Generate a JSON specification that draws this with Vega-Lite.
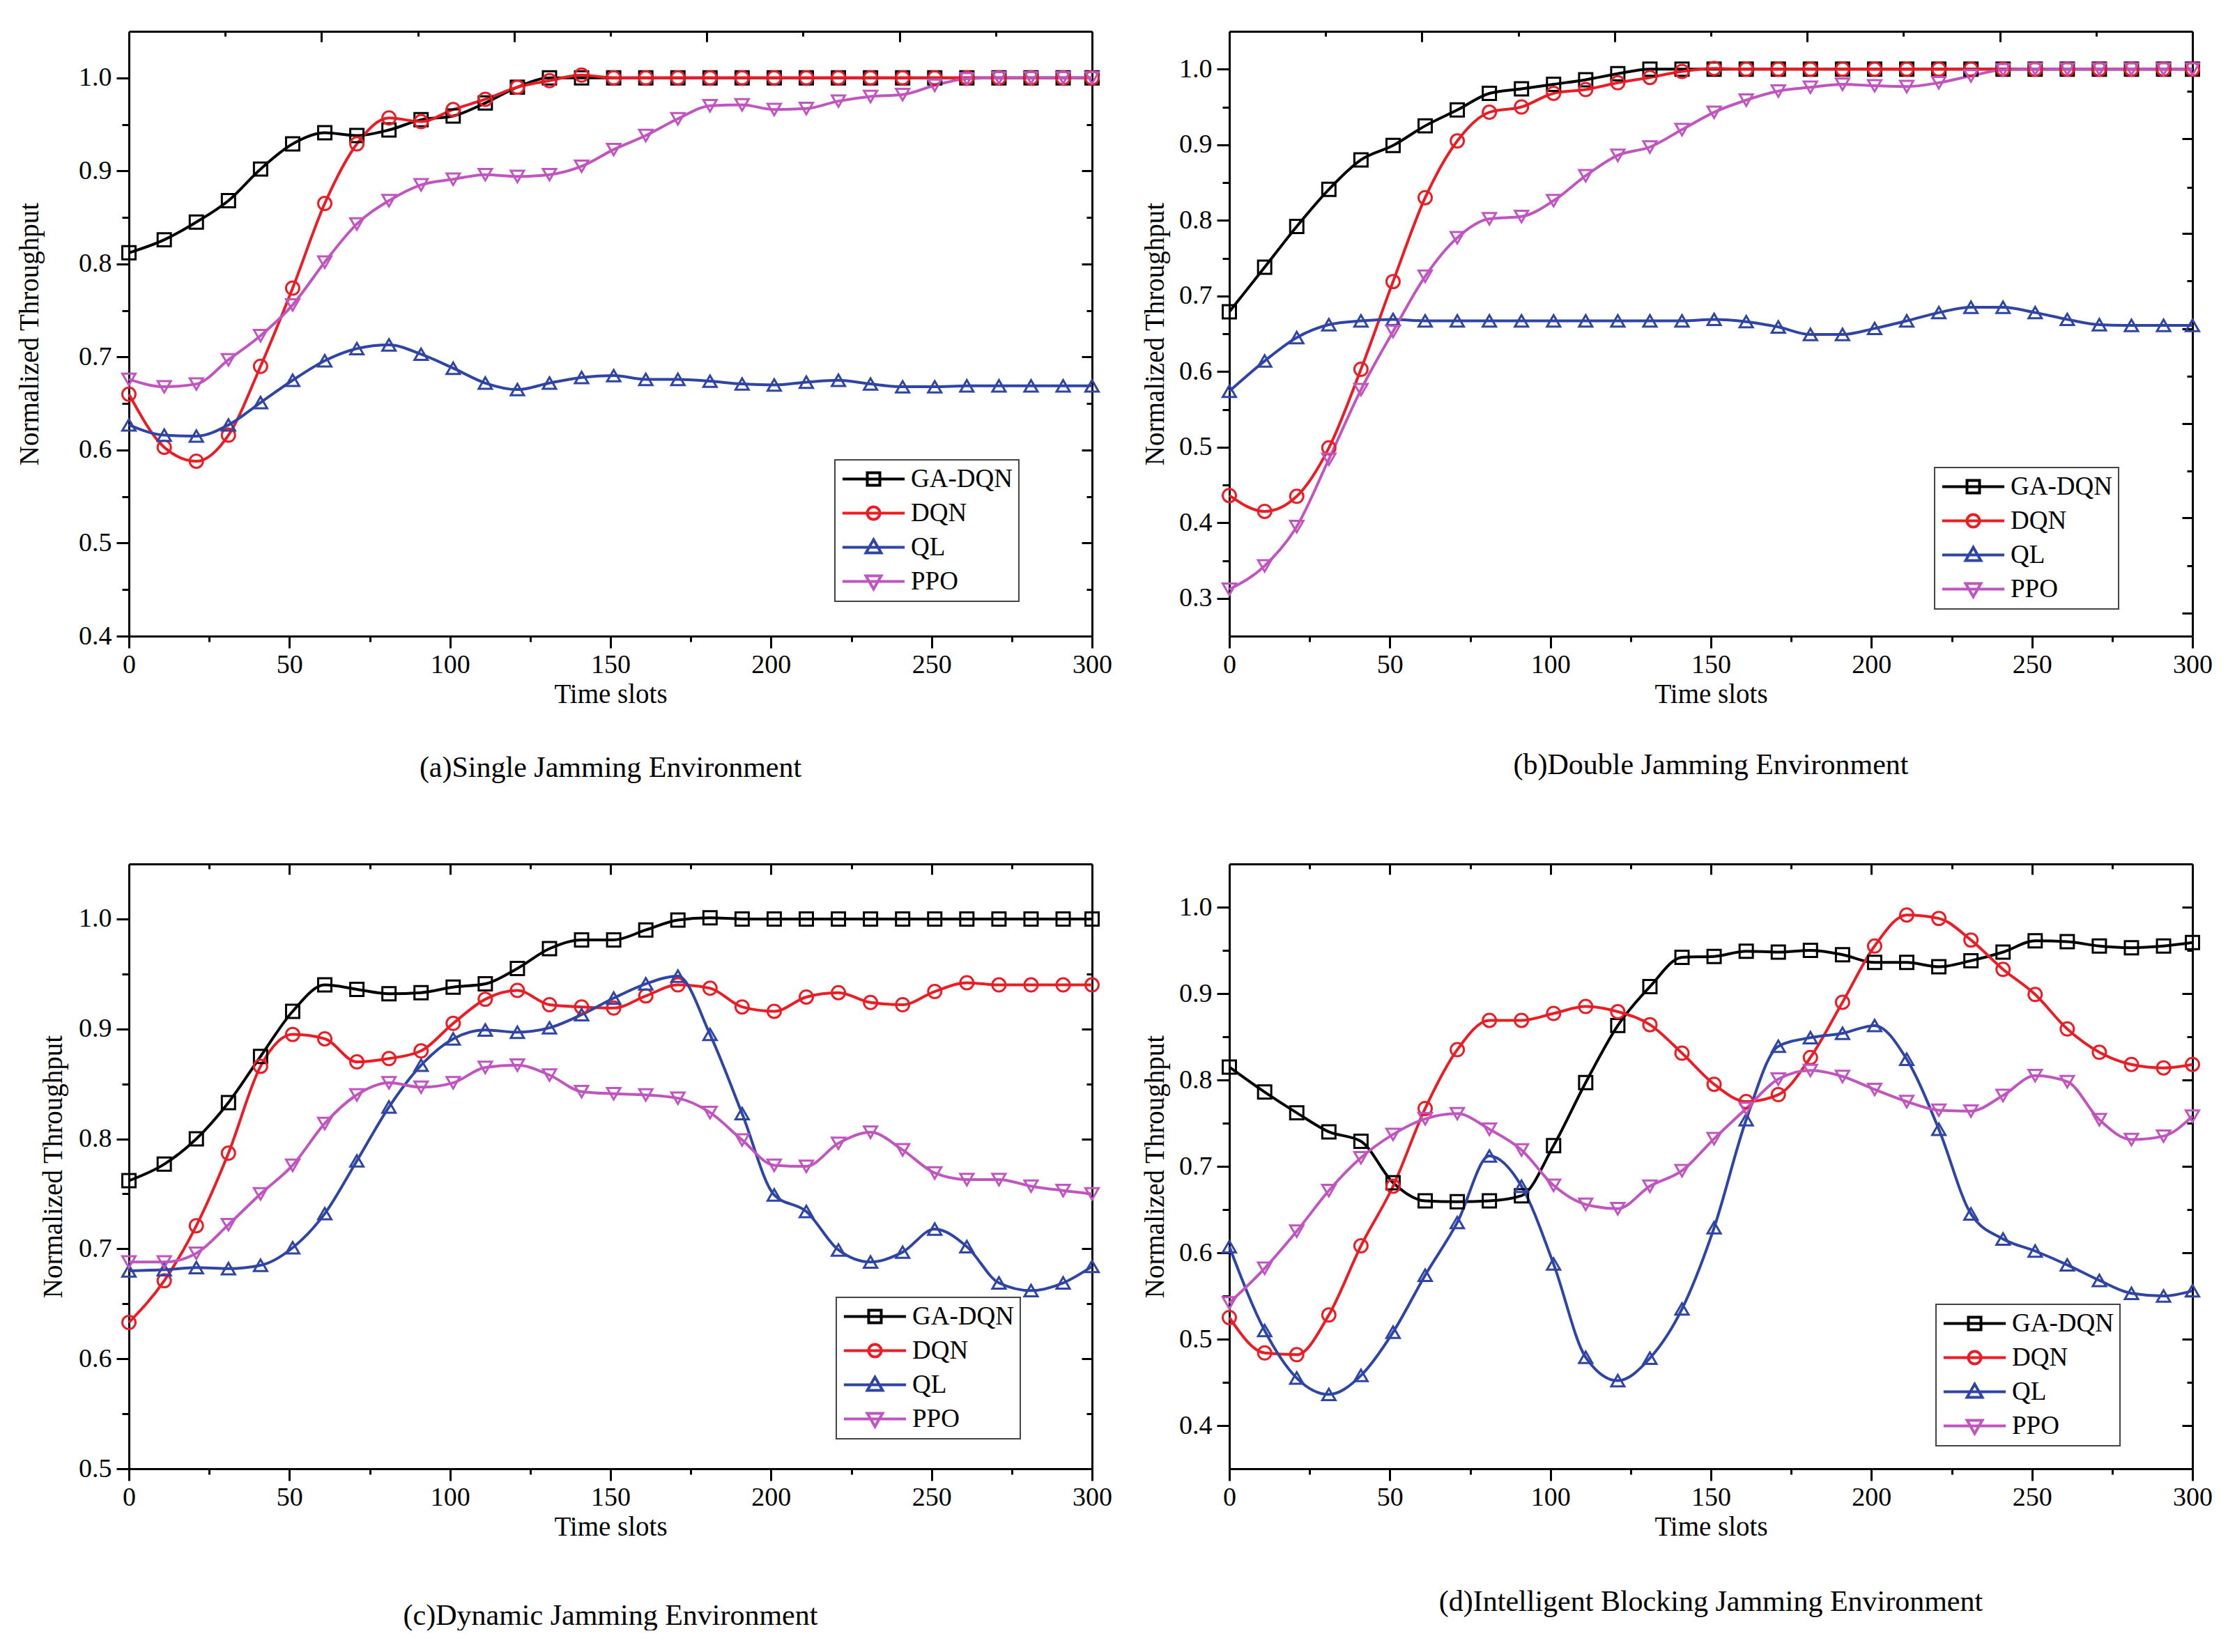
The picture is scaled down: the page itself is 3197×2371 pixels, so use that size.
{
  "$schema": "https://vega.github.io/schema/vega-lite/v6.json",
  "background": "white",
  "padding": {"left": 23, "top": 43, "right": 0, "bottom": 0},
  "columns": 2,
  "spacing": {"row": 327, "column": 197},
  "bounds": "flush",
  "resolve": {"scale": {"color": "independent", "shape": "independent"}},
  "config": {
    "font": "Liberation Serif",
    "view": {"stroke": null},
    "axis": {"domainColor": "#000", "domainWidth": 3, "tickColor": "#000", "tickWidth": 3, "labelFont": "Liberation Serif", "labelFontSize": 38, "labelColor": "#000", "titleFont": "Liberation Serif", "titleFontSize": 39, "titleFontWeight": "normal", "titleColor": "#000", "grid": false, "labelOverlap": false, "labelFlush": false},
    "title": {"font": "Liberation Serif", "fontSize": 42, "fontWeight": "normal", "color": "#000"},
    "legend": {"orient": "none", "labelFont": "Liberation Serif", "labelFontSize": 37, "labelColor": "#000", "labelOffset": 35, "symbolOffset": 28, "symbolSize": 360, "symbolStrokeWidth": 4, "symbolFillColor": "transparent", "strokeColor": "#444", "strokeWidth": 2, "fillColor": "white", "padding": 9, "rowPadding": 11, "labelLimit": 400}
  },
  "datasets": {
    "a": [
      {"s":"GA-DQN","t":0,"v":0.812},{"s":"GA-DQN","t":11,"v":0.826},{"s":"GA-DQN","t":21,"v":0.845},{"s":"GA-DQN","t":31,"v":0.868},{"s":"GA-DQN","t":41,"v":0.902},{"s":"GA-DQN","t":51,"v":0.929},{"s":"GA-DQN","t":61,"v":0.941},{"s":"GA-DQN","t":71,"v":0.938},{"s":"GA-DQN","t":81,"v":0.944},{"s":"GA-DQN","t":91,"v":0.955},{"s":"GA-DQN","t":101,"v":0.959},{"s":"GA-DQN","t":111,"v":0.973},{"s":"GA-DQN","t":121,"v":0.990},{"s":"GA-DQN","t":131,"v":1.0},{"s":"GA-DQN","t":141,"v":1.0},{"s":"GA-DQN","t":151,"v":1.0},{"s":"GA-DQN","t":161,"v":1.0},{"s":"GA-DQN","t":171,"v":1.0},{"s":"GA-DQN","t":181,"v":1.0},{"s":"GA-DQN","t":191,"v":1.0},{"s":"GA-DQN","t":201,"v":1.0},{"s":"GA-DQN","t":211,"v":1.0},{"s":"GA-DQN","t":221,"v":1.0},{"s":"GA-DQN","t":231,"v":1.0},{"s":"GA-DQN","t":241,"v":1.0},{"s":"GA-DQN","t":251,"v":1.0},{"s":"GA-DQN","t":261,"v":1.0},{"s":"GA-DQN","t":271,"v":1.0},{"s":"GA-DQN","t":281,"v":1.0},{"s":"GA-DQN","t":291,"v":1.0},{"s":"GA-DQN","t":300,"v":1.0},
      {"s":"DQN","t":0,"v":0.660},{"s":"DQN","t":11,"v":0.603},{"s":"DQN","t":21,"v":0.588},{"s":"DQN","t":31,"v":0.616},{"s":"DQN","t":41,"v":0.690},{"s":"DQN","t":51,"v":0.774},{"s":"DQN","t":61,"v":0.865},{"s":"DQN","t":71,"v":0.929},{"s":"DQN","t":81,"v":0.957},{"s":"DQN","t":91,"v":0.953},{"s":"DQN","t":101,"v":0.966},{"s":"DQN","t":111,"v":0.977},{"s":"DQN","t":121,"v":0.990},{"s":"DQN","t":131,"v":0.997},{"s":"DQN","t":141,"v":1.003},{"s":"DQN","t":151,"v":1.0},{"s":"DQN","t":161,"v":1.0},{"s":"DQN","t":171,"v":1.0},{"s":"DQN","t":181,"v":1.0},{"s":"DQN","t":191,"v":1.0},{"s":"DQN","t":201,"v":1.0},{"s":"DQN","t":211,"v":1.0},{"s":"DQN","t":221,"v":1.0},{"s":"DQN","t":231,"v":1.0},{"s":"DQN","t":241,"v":1.0},{"s":"DQN","t":251,"v":1.0},{"s":"DQN","t":261,"v":1.0},{"s":"DQN","t":271,"v":1.0},{"s":"DQN","t":281,"v":1.0},{"s":"DQN","t":291,"v":1.0},{"s":"DQN","t":300,"v":1.0},
      {"s":"QL","t":0,"v":0.627},{"s":"QL","t":11,"v":0.616},{"s":"QL","t":21,"v":0.615},{"s":"QL","t":31,"v":0.627},{"s":"QL","t":41,"v":0.651},{"s":"QL","t":51,"v":0.675},{"s":"QL","t":61,"v":0.696},{"s":"QL","t":71,"v":0.709},{"s":"QL","t":81,"v":0.713},{"s":"QL","t":91,"v":0.703},{"s":"QL","t":101,"v":0.688},{"s":"QL","t":111,"v":0.672},{"s":"QL","t":121,"v":0.665},{"s":"QL","t":131,"v":0.672},{"s":"QL","t":141,"v":0.678},{"s":"QL","t":151,"v":0.680},{"s":"QL","t":161,"v":0.676},{"s":"QL","t":171,"v":0.676},{"s":"QL","t":181,"v":0.674},{"s":"QL","t":191,"v":0.671},{"s":"QL","t":201,"v":0.670},{"s":"QL","t":211,"v":0.673},{"s":"QL","t":221,"v":0.675},{"s":"QL","t":231,"v":0.671},{"s":"QL","t":241,"v":0.668},{"s":"QL","t":251,"v":0.668},{"s":"QL","t":261,"v":0.669},{"s":"QL","t":271,"v":0.669},{"s":"QL","t":281,"v":0.669},{"s":"QL","t":291,"v":0.669},{"s":"QL","t":300,"v":0.669},
      {"s":"PPO","t":0,"v":0.676},{"s":"PPO","t":11,"v":0.668},{"s":"PPO","t":21,"v":0.671},{"s":"PPO","t":31,"v":0.697},{"s":"PPO","t":41,"v":0.723},{"s":"PPO","t":51,"v":0.756},{"s":"PPO","t":61,"v":0.802},{"s":"PPO","t":71,"v":0.843},{"s":"PPO","t":81,"v":0.868},{"s":"PPO","t":91,"v":0.885},{"s":"PPO","t":101,"v":0.891},{"s":"PPO","t":111,"v":0.896},{"s":"PPO","t":121,"v":0.894},{"s":"PPO","t":131,"v":0.896},{"s":"PPO","t":141,"v":0.905},{"s":"PPO","t":151,"v":0.923},{"s":"PPO","t":161,"v":0.938},{"s":"PPO","t":171,"v":0.956},{"s":"PPO","t":181,"v":0.970},{"s":"PPO","t":191,"v":0.971},{"s":"PPO","t":201,"v":0.966},{"s":"PPO","t":211,"v":0.967},{"s":"PPO","t":221,"v":0.975},{"s":"PPO","t":231,"v":0.980},{"s":"PPO","t":241,"v":0.982},{"s":"PPO","t":251,"v":0.992},{"s":"PPO","t":261,"v":0.999},{"s":"PPO","t":271,"v":1.0},{"s":"PPO","t":281,"v":1.0},{"s":"PPO","t":291,"v":1.0},{"s":"PPO","t":300,"v":1.0}
    ],
    "b": [
      {"s":"GA-DQN","t":0,"v":0.679},{"s":"GA-DQN","t":11,"v":0.738},{"s":"GA-DQN","t":21,"v":0.792},{"s":"GA-DQN","t":31,"v":0.841},{"s":"GA-DQN","t":41,"v":0.880},{"s":"GA-DQN","t":51,"v":0.899},{"s":"GA-DQN","t":61,"v":0.925},{"s":"GA-DQN","t":71,"v":0.946},{"s":"GA-DQN","t":81,"v":0.968},{"s":"GA-DQN","t":91,"v":0.974},{"s":"GA-DQN","t":101,"v":0.980},{"s":"GA-DQN","t":111,"v":0.986},{"s":"GA-DQN","t":121,"v":0.994},{"s":"GA-DQN","t":131,"v":1.0},{"s":"GA-DQN","t":141,"v":1.0},{"s":"GA-DQN","t":151,"v":1.0},{"s":"GA-DQN","t":161,"v":1.0},{"s":"GA-DQN","t":171,"v":1.0},{"s":"GA-DQN","t":181,"v":1.0},{"s":"GA-DQN","t":191,"v":1.0},{"s":"GA-DQN","t":201,"v":1.0},{"s":"GA-DQN","t":211,"v":1.0},{"s":"GA-DQN","t":221,"v":1.0},{"s":"GA-DQN","t":231,"v":1.0},{"s":"GA-DQN","t":241,"v":1.0},{"s":"GA-DQN","t":251,"v":1.0},{"s":"GA-DQN","t":261,"v":1.0},{"s":"GA-DQN","t":271,"v":1.0},{"s":"GA-DQN","t":281,"v":1.0},{"s":"GA-DQN","t":291,"v":1.0},{"s":"GA-DQN","t":300,"v":1.0},
      {"s":"DQN","t":0,"v":0.436},{"s":"DQN","t":11,"v":0.415},{"s":"DQN","t":21,"v":0.435},{"s":"DQN","t":31,"v":0.499},{"s":"DQN","t":41,"v":0.603},{"s":"DQN","t":51,"v":0.719},{"s":"DQN","t":61,"v":0.830},{"s":"DQN","t":71,"v":0.905},{"s":"DQN","t":81,"v":0.943},{"s":"DQN","t":91,"v":0.950},{"s":"DQN","t":101,"v":0.968},{"s":"DQN","t":111,"v":0.973},{"s":"DQN","t":121,"v":0.982},{"s":"DQN","t":131,"v":0.989},{"s":"DQN","t":141,"v":0.997},{"s":"DQN","t":151,"v":1.001},{"s":"DQN","t":161,"v":1.0},{"s":"DQN","t":171,"v":1.0},{"s":"DQN","t":181,"v":1.0},{"s":"DQN","t":191,"v":1.0},{"s":"DQN","t":201,"v":1.0},{"s":"DQN","t":211,"v":1.0},{"s":"DQN","t":221,"v":1.0},{"s":"DQN","t":231,"v":1.0},{"s":"DQN","t":241,"v":1.0},{"s":"DQN","t":251,"v":1.0},{"s":"DQN","t":261,"v":1.0},{"s":"DQN","t":271,"v":1.0},{"s":"DQN","t":281,"v":1.0},{"s":"DQN","t":291,"v":1.0},{"s":"DQN","t":300,"v":1.0},
      {"s":"QL","t":0,"v":0.574},{"s":"QL","t":11,"v":0.614},{"s":"QL","t":21,"v":0.645},{"s":"QL","t":31,"v":0.662},{"s":"QL","t":41,"v":0.667},{"s":"QL","t":51,"v":0.669},{"s":"QL","t":61,"v":0.667},{"s":"QL","t":71,"v":0.667},{"s":"QL","t":81,"v":0.667},{"s":"QL","t":91,"v":0.667},{"s":"QL","t":101,"v":0.667},{"s":"QL","t":111,"v":0.667},{"s":"QL","t":121,"v":0.667},{"s":"QL","t":131,"v":0.667},{"s":"QL","t":141,"v":0.667},{"s":"QL","t":151,"v":0.669},{"s":"QL","t":161,"v":0.666},{"s":"QL","t":171,"v":0.659},{"s":"QL","t":181,"v":0.649},{"s":"QL","t":191,"v":0.649},{"s":"QL","t":201,"v":0.657},{"s":"QL","t":211,"v":0.667},{"s":"QL","t":221,"v":0.678},{"s":"QL","t":231,"v":0.685},{"s":"QL","t":241,"v":0.685},{"s":"QL","t":251,"v":0.678},{"s":"QL","t":261,"v":0.669},{"s":"QL","t":271,"v":0.662},{"s":"QL","t":281,"v":0.661},{"s":"QL","t":291,"v":0.661},{"s":"QL","t":300,"v":0.661},
      {"s":"PPO","t":0,"v":0.312},{"s":"PPO","t":11,"v":0.343},{"s":"PPO","t":21,"v":0.395},{"s":"PPO","t":31,"v":0.484},{"s":"PPO","t":41,"v":0.576},{"s":"PPO","t":51,"v":0.653},{"s":"PPO","t":61,"v":0.726},{"s":"PPO","t":71,"v":0.777},{"s":"PPO","t":81,"v":0.802},{"s":"PPO","t":91,"v":0.805},{"s":"PPO","t":101,"v":0.826},{"s":"PPO","t":111,"v":0.859},{"s":"PPO","t":121,"v":0.886},{"s":"PPO","t":131,"v":0.897},{"s":"PPO","t":141,"v":0.920},{"s":"PPO","t":151,"v":0.943},{"s":"PPO","t":161,"v":0.959},{"s":"PPO","t":171,"v":0.971},{"s":"PPO","t":181,"v":0.976},{"s":"PPO","t":191,"v":0.980},{"s":"PPO","t":201,"v":0.978},{"s":"PPO","t":211,"v":0.977},{"s":"PPO","t":221,"v":0.982},{"s":"PPO","t":231,"v":0.991},{"s":"PPO","t":241,"v":0.999},{"s":"PPO","t":251,"v":1.0},{"s":"PPO","t":261,"v":1.0},{"s":"PPO","t":271,"v":1.0},{"s":"PPO","t":281,"v":1.0},{"s":"PPO","t":291,"v":1.0},{"s":"PPO","t":300,"v":1.0}
    ],
    "c": [
      {"s":"GA-DQN","t":0,"v":0.762},{"s":"GA-DQN","t":11,"v":0.777},{"s":"GA-DQN","t":21,"v":0.800},{"s":"GA-DQN","t":31,"v":0.833},{"s":"GA-DQN","t":41,"v":0.875},{"s":"GA-DQN","t":51,"v":0.916},{"s":"GA-DQN","t":61,"v":0.940},{"s":"GA-DQN","t":71,"v":0.936},{"s":"GA-DQN","t":81,"v":0.932},{"s":"GA-DQN","t":91,"v":0.933},{"s":"GA-DQN","t":101,"v":0.938},{"s":"GA-DQN","t":111,"v":0.941},{"s":"GA-DQN","t":121,"v":0.955},{"s":"GA-DQN","t":131,"v":0.973},{"s":"GA-DQN","t":141,"v":0.981},{"s":"GA-DQN","t":151,"v":0.981},{"s":"GA-DQN","t":161,"v":0.990},{"s":"GA-DQN","t":171,"v":0.999},{"s":"GA-DQN","t":181,"v":1.001},{"s":"GA-DQN","t":191,"v":1.0},{"s":"GA-DQN","t":201,"v":1.0},{"s":"GA-DQN","t":211,"v":1.0},{"s":"GA-DQN","t":221,"v":1.0},{"s":"GA-DQN","t":231,"v":1.0},{"s":"GA-DQN","t":241,"v":1.0},{"s":"GA-DQN","t":251,"v":1.0},{"s":"GA-DQN","t":261,"v":1.0},{"s":"GA-DQN","t":271,"v":1.0},{"s":"GA-DQN","t":281,"v":1.0},{"s":"GA-DQN","t":291,"v":1.0},{"s":"GA-DQN","t":300,"v":1.0},
      {"s":"DQN","t":0,"v":0.633},{"s":"DQN","t":11,"v":0.671},{"s":"DQN","t":21,"v":0.721},{"s":"DQN","t":31,"v":0.787},{"s":"DQN","t":41,"v":0.866},{"s":"DQN","t":51,"v":0.895},{"s":"DQN","t":61,"v":0.891},{"s":"DQN","t":71,"v":0.870},{"s":"DQN","t":81,"v":0.873},{"s":"DQN","t":91,"v":0.880},{"s":"DQN","t":101,"v":0.905},{"s":"DQN","t":111,"v":0.927},{"s":"DQN","t":121,"v":0.935},{"s":"DQN","t":131,"v":0.922},{"s":"DQN","t":141,"v":0.920},{"s":"DQN","t":151,"v":0.919},{"s":"DQN","t":161,"v":0.930},{"s":"DQN","t":171,"v":0.940},{"s":"DQN","t":181,"v":0.937},{"s":"DQN","t":191,"v":0.920},{"s":"DQN","t":201,"v":0.916},{"s":"DQN","t":211,"v":0.929},{"s":"DQN","t":221,"v":0.933},{"s":"DQN","t":231,"v":0.924},{"s":"DQN","t":241,"v":0.922},{"s":"DQN","t":251,"v":0.934},{"s":"DQN","t":261,"v":0.942},{"s":"DQN","t":271,"v":0.940},{"s":"DQN","t":281,"v":0.940},{"s":"DQN","t":291,"v":0.940},{"s":"DQN","t":300,"v":0.940},
      {"s":"QL","t":0,"v":0.680},{"s":"QL","t":11,"v":0.681},{"s":"QL","t":21,"v":0.683},{"s":"QL","t":31,"v":0.682},{"s":"QL","t":41,"v":0.685},{"s":"QL","t":51,"v":0.701},{"s":"QL","t":61,"v":0.732},{"s":"QL","t":71,"v":0.780},{"s":"QL","t":81,"v":0.829},{"s":"QL","t":91,"v":0.867},{"s":"QL","t":101,"v":0.891},{"s":"QL","t":111,"v":0.899},{"s":"QL","t":121,"v":0.897},{"s":"QL","t":131,"v":0.901},{"s":"QL","t":141,"v":0.913},{"s":"QL","t":151,"v":0.928},{"s":"QL","t":161,"v":0.941},{"s":"QL","t":171,"v":0.948},{"s":"QL","t":181,"v":0.895},{"s":"QL","t":191,"v":0.823},{"s":"QL","t":201,"v":0.749},{"s":"QL","t":211,"v":0.734},{"s":"QL","t":221,"v":0.699},{"s":"QL","t":231,"v":0.688},{"s":"QL","t":241,"v":0.697},{"s":"QL","t":251,"v":0.718},{"s":"QL","t":261,"v":0.702},{"s":"QL","t":271,"v":0.669},{"s":"QL","t":281,"v":0.662},{"s":"QL","t":291,"v":0.669},{"s":"QL","t":300,"v":0.684},
      {"s":"PPO","t":0,"v":0.688},{"s":"PPO","t":11,"v":0.688},{"s":"PPO","t":21,"v":0.696},{"s":"PPO","t":31,"v":0.722},{"s":"PPO","t":41,"v":0.750},{"s":"PPO","t":51,"v":0.776},{"s":"PPO","t":61,"v":0.814},{"s":"PPO","t":71,"v":0.840},{"s":"PPO","t":81,"v":0.851},{"s":"PPO","t":91,"v":0.847},{"s":"PPO","t":101,"v":0.851},{"s":"PPO","t":111,"v":0.865},{"s":"PPO","t":121,"v":0.867},{"s":"PPO","t":131,"v":0.858},{"s":"PPO","t":141,"v":0.843},{"s":"PPO","t":151,"v":0.841},{"s":"PPO","t":161,"v":0.840},{"s":"PPO","t":171,"v":0.837},{"s":"PPO","t":181,"v":0.824},{"s":"PPO","t":191,"v":0.799},{"s":"PPO","t":201,"v":0.776},{"s":"PPO","t":211,"v":0.775},{"s":"PPO","t":221,"v":0.796},{"s":"PPO","t":231,"v":0.806},{"s":"PPO","t":241,"v":0.790},{"s":"PPO","t":251,"v":0.769},{"s":"PPO","t":261,"v":0.763},{"s":"PPO","t":271,"v":0.763},{"s":"PPO","t":281,"v":0.757},{"s":"PPO","t":291,"v":0.753},{"s":"PPO","t":300,"v":0.750}
    ],
    "d": [
      {"s":"GA-DQN","t":0,"v":0.815},{"s":"GA-DQN","t":11,"v":0.786},{"s":"GA-DQN","t":21,"v":0.762},{"s":"GA-DQN","t":31,"v":0.740},{"s":"GA-DQN","t":41,"v":0.729},{"s":"GA-DQN","t":51,"v":0.681},{"s":"GA-DQN","t":61,"v":0.660},{"s":"GA-DQN","t":71,"v":0.659},{"s":"GA-DQN","t":81,"v":0.660},{"s":"GA-DQN","t":91,"v":0.666},{"s":"GA-DQN","t":101,"v":0.724},{"s":"GA-DQN","t":111,"v":0.797},{"s":"GA-DQN","t":121,"v":0.863},{"s":"GA-DQN","t":131,"v":0.908},{"s":"GA-DQN","t":141,"v":0.942},{"s":"GA-DQN","t":151,"v":0.943},{"s":"GA-DQN","t":161,"v":0.949},{"s":"GA-DQN","t":171,"v":0.948},{"s":"GA-DQN","t":181,"v":0.950},{"s":"GA-DQN","t":191,"v":0.945},{"s":"GA-DQN","t":201,"v":0.936},{"s":"GA-DQN","t":211,"v":0.936},{"s":"GA-DQN","t":221,"v":0.931},{"s":"GA-DQN","t":231,"v":0.938},{"s":"GA-DQN","t":241,"v":0.948},{"s":"GA-DQN","t":251,"v":0.961},{"s":"GA-DQN","t":261,"v":0.960},{"s":"GA-DQN","t":271,"v":0.955},{"s":"GA-DQN","t":281,"v":0.953},{"s":"GA-DQN","t":291,"v":0.955},{"s":"GA-DQN","t":300,"v":0.959},
      {"s":"DQN","t":0,"v":0.525},{"s":"DQN","t":11,"v":0.484},{"s":"DQN","t":21,"v":0.482},{"s":"DQN","t":31,"v":0.528},{"s":"DQN","t":41,"v":0.608},{"s":"DQN","t":51,"v":0.677},{"s":"DQN","t":61,"v":0.767},{"s":"DQN","t":71,"v":0.835},{"s":"DQN","t":81,"v":0.869},{"s":"DQN","t":91,"v":0.869},{"s":"DQN","t":101,"v":0.877},{"s":"DQN","t":111,"v":0.885},{"s":"DQN","t":121,"v":0.879},{"s":"DQN","t":131,"v":0.864},{"s":"DQN","t":141,"v":0.831},{"s":"DQN","t":151,"v":0.795},{"s":"DQN","t":161,"v":0.775},{"s":"DQN","t":171,"v":0.783},{"s":"DQN","t":181,"v":0.826},{"s":"DQN","t":191,"v":0.890},{"s":"DQN","t":201,"v":0.955},{"s":"DQN","t":211,"v":0.991},{"s":"DQN","t":221,"v":0.987},{"s":"DQN","t":231,"v":0.962},{"s":"DQN","t":241,"v":0.928},{"s":"DQN","t":251,"v":0.899},{"s":"DQN","t":261,"v":0.859},{"s":"DQN","t":271,"v":0.832},{"s":"DQN","t":281,"v":0.818},{"s":"DQN","t":291,"v":0.814},{"s":"DQN","t":300,"v":0.818},
      {"s":"QL","t":0,"v":0.607},{"s":"QL","t":11,"v":0.510},{"s":"QL","t":21,"v":0.455},{"s":"QL","t":31,"v":0.436},{"s":"QL","t":41,"v":0.458},{"s":"QL","t":51,"v":0.508},{"s":"QL","t":61,"v":0.574},{"s":"QL","t":71,"v":0.635},{"s":"QL","t":81,"v":0.712},{"s":"QL","t":91,"v":0.677},{"s":"QL","t":101,"v":0.587},{"s":"QL","t":111,"v":0.479},{"s":"QL","t":121,"v":0.452},{"s":"QL","t":131,"v":0.478},{"s":"QL","t":141,"v":0.535},{"s":"QL","t":151,"v":0.629},{"s":"QL","t":161,"v":0.754},{"s":"QL","t":171,"v":0.839},{"s":"QL","t":181,"v":0.849},{"s":"QL","t":191,"v":0.854},{"s":"QL","t":201,"v":0.863},{"s":"QL","t":211,"v":0.824},{"s":"QL","t":221,"v":0.743},{"s":"QL","t":231,"v":0.645},{"s":"QL","t":241,"v":0.616},{"s":"QL","t":251,"v":0.602},{"s":"QL","t":261,"v":0.586},{"s":"QL","t":271,"v":0.568},{"s":"QL","t":281,"v":0.553},{"s":"QL","t":291,"v":0.550},{"s":"QL","t":300,"v":0.556},
      {"s":"PPO","t":0,"v":0.542},{"s":"PPO","t":11,"v":0.582},{"s":"PPO","t":21,"v":0.625},{"s":"PPO","t":31,"v":0.672},{"s":"PPO","t":41,"v":0.710},{"s":"PPO","t":51,"v":0.737},{"s":"PPO","t":61,"v":0.755},{"s":"PPO","t":71,"v":0.761},{"s":"PPO","t":81,"v":0.743},{"s":"PPO","t":91,"v":0.719},{"s":"PPO","t":101,"v":0.678},{"s":"PPO","t":111,"v":0.656},{"s":"PPO","t":121,"v":0.651},{"s":"PPO","t":131,"v":0.677},{"s":"PPO","t":141,"v":0.695},{"s":"PPO","t":151,"v":0.732},{"s":"PPO","t":161,"v":0.767},{"s":"PPO","t":171,"v":0.801},{"s":"PPO","t":181,"v":0.811},{"s":"PPO","t":191,"v":0.804},{"s":"PPO","t":201,"v":0.789},{"s":"PPO","t":211,"v":0.775},{"s":"PPO","t":221,"v":0.765},{"s":"PPO","t":231,"v":0.764},{"s":"PPO","t":241,"v":0.782},{"s":"PPO","t":251,"v":0.805},{"s":"PPO","t":261,"v":0.798},{"s":"PPO","t":271,"v":0.754},{"s":"PPO","t":281,"v":0.731},{"s":"PPO","t":291,"v":0.735},{"s":"PPO","t":300,"v":0.758}
    ]
  },
  "concat": [
    {
      "width": 1382, "height": 868,
      "data": {"name": "a"},
      "title": {"text": "(a)Single Jamming Environment", "orient": "bottom", "anchor": "middle", "frame": "group", "offset": 66},
      "encoding": {
        "x": {"field": "t", "type": "quantitative", "scale": {"domain": [0, 300], "nice": false, "zero": false}, "axis": null},
        "y": {"field": "v", "type": "quantitative", "scale": {"domain": [0.4, 1.05], "nice": false, "zero": false}, "axis": null},
        "color": {"field": "s", "type": "nominal", "scale": {"domain": ["GA-DQN", "DQN", "QL", "PPO"], "range": ["#000000", "#ec1c24", "#2e45a6", "#c155c0"]}, "legend": {"title": null, "orient": "none", "legendX": 1013, "legendY": 615, "symbolStrokeWidth": 4}}
      },
      "layer": [
        {
          "mark": {"type": "line", "interpolate": "monotone", "strokeWidth": 4},
          "encoding": {
            "x": {"field": "t", "type": "quantitative", "scale": {"domain": [0, 300], "nice": false, "zero": false},
              "axis": {"orient": "bottom", "title": "Time slots", "values": [0,25,50,75,100,125,150,175,200,225,250,275,300], "format": "d", "labelExpr": "datum.value % 50 === 0 ? datum.label : ''", "tickSize": {"condition": {"test": "datum.value % 50 === 0", "value": 17}, "value": 8}, "labelPadding": 5, "titlePadding": 4}},
            "y": {"field": "v", "type": "quantitative", "scale": {"domain": [0.4, 1.05], "nice": false, "zero": false},
              "axis": {"orient": "left", "title": "Normalized Throughput", "values": [0.4,0.45,0.5,0.55,0.6,0.65,0.7,0.75,0.8,0.85,0.9,0.95,1.0], "format": ".1f", "labelExpr": "abs(datum.value*10 - round(datum.value*10)) < 0.01 ? datum.label : ''", "tickSize": {"condition": {"test": "abs(datum.value*10 - round(datum.value*10)) < 0.01", "value": 18}, "value": 10}, "labelPadding": 7, "titlePadding": 50}}
          }
        },
        {"transform": [{"filter": "datum.s === 'GA-DQN'"}], "mark": {"type": "point", "shape": "square", "filled": false, "size": 360, "strokeWidth": 3, "opacity": 1}},
        {"transform": [{"filter": "datum.s === 'DQN'"}], "mark": {"type": "point", "shape": "circle", "filled": false, "size": 360, "strokeWidth": 3, "opacity": 1}},
        {"transform": [{"filter": "datum.s === 'QL'"}], "mark": {"type": "point", "shape": "triangle-up", "filled": false, "size": 360, "strokeWidth": 3, "opacity": 1}},
        {"transform": [{"filter": "datum.s === 'PPO'"}], "mark": {"type": "point", "shape": "triangle-down", "filled": false, "size": 360, "strokeWidth": 3, "opacity": 1}},
        {
          "transform": [{"filter": "false"}],
          "mark": {"type": "point", "filled": false, "size": 360, "strokeWidth": 4},
          "encoding": {
            "x": {"field": "t", "type": "quantitative", "scale": {"domain": [0, 300], "nice": false, "zero": false},
              "axis": {"orient": "top", "title": null, "labels": false, "values": [30,60,90,120,150,180,210,240,270], "tickSize": {"condition": {"test": "datum.value % 60 === 0", "value": -15}, "value": -7}}},
            "y": {"field": "v", "type": "quantitative", "scale": {"domain": [0.4, 1.05], "nice": false, "zero": false},
              "axis": {"orient": "right", "title": null, "labels": false, "values": [0.45,0.5,0.55,0.6,0.65,0.7,0.75,0.8,0.85,0.9,0.95,1.0], "tickSize": {"condition": {"test": "abs(datum.value*10 - round(datum.value*10)) < 0.01", "value": -15}, "value": -8}}},
            "shape": {"field": "s", "type": "nominal", "scale": {"domain": ["GA-DQN", "DQN", "QL", "PPO"], "range": ["M-4.7,0H4.7M-0.95,-0.95H0.95V0.95H-0.95Z", "M-4.7,0H4.7M0.95,0A0.95,0.95,0,1,1,-0.95,0A0.95,0.95,0,1,1,0.95,0Z", "M-4.7,0H4.7M0,-1.15L1.15,0.85H-1.15Z", "M-4.7,0H4.7M0,1.15L1.15,-0.85H-1.15Z"]}, "legend": {"title": null, "orient": "none", "legendX": 1013, "legendY": 615, "symbolStrokeWidth": 4}}
          }
        }
      ],
      "resolve": {"axis": {"x": "independent", "y": "independent"}}
    },
    {
      "width": 1382, "height": 868,
      "data": {"name": "b"},
      "title": {"text": "(b)Double Jamming Environment", "orient": "bottom", "anchor": "middle", "frame": "group", "offset": 62},
      "encoding": {
        "x": {"field": "t", "type": "quantitative", "scale": {"domain": [0, 300], "nice": false, "zero": false}, "axis": null},
        "y": {"field": "v", "type": "quantitative", "scale": {"domain": [0.25, 1.05], "nice": false, "zero": false}, "axis": null},
        "color": {"field": "s", "type": "nominal", "scale": {"domain": ["GA-DQN", "DQN", "QL", "PPO"], "range": ["#000000", "#ec1c24", "#2e45a6", "#c155c0"]}, "legend": {"title": null, "orient": "none", "legendX": 1012, "legendY": 626, "symbolStrokeWidth": 4}}
      },
      "layer": [
        {
          "mark": {"type": "line", "interpolate": "monotone", "strokeWidth": 4},
          "encoding": {
            "x": {"field": "t", "type": "quantitative", "scale": {"domain": [0, 300], "nice": false, "zero": false},
              "axis": {"orient": "bottom", "title": "Time slots", "values": [0,25,50,75,100,125,150,175,200,225,250,275,300], "format": "d", "labelExpr": "datum.value % 50 === 0 ? datum.label : ''", "tickSize": {"condition": {"test": "datum.value % 50 === 0", "value": 17}, "value": 8}, "labelPadding": 5, "titlePadding": 4}},
            "y": {"field": "v", "type": "quantitative", "scale": {"domain": [0.25, 1.05], "nice": false, "zero": false},
              "axis": {"orient": "left", "title": "Normalized Throughput", "values": [0.3,0.35,0.4,0.45,0.5,0.55,0.6,0.65,0.7,0.75,0.8,0.85,0.9,0.95,1.0], "format": ".1f", "labelExpr": "abs(datum.value*10 - round(datum.value*10)) < 0.01 ? datum.label : ''", "tickSize": {"condition": {"test": "abs(datum.value*10 - round(datum.value*10)) < 0.01", "value": 18}, "value": 10}, "labelPadding": 7, "titlePadding": 14}}
          }
        },
        {"transform": [{"filter": "datum.s === 'GA-DQN'"}], "mark": {"type": "point", "shape": "square", "filled": false, "size": 360, "strokeWidth": 3, "opacity": 1}},
        {"transform": [{"filter": "datum.s === 'DQN'"}], "mark": {"type": "point", "shape": "circle", "filled": false, "size": 360, "strokeWidth": 3, "opacity": 1}},
        {"transform": [{"filter": "datum.s === 'QL'"}], "mark": {"type": "point", "shape": "triangle-up", "filled": false, "size": 360, "strokeWidth": 3, "opacity": 1}},
        {"transform": [{"filter": "datum.s === 'PPO'"}], "mark": {"type": "point", "shape": "triangle-down", "filled": false, "size": 360, "strokeWidth": 3, "opacity": 1}},
        {
          "transform": [{"filter": "false"}],
          "mark": {"type": "point", "filled": false, "size": 360, "strokeWidth": 4},
          "encoding": {
            "x": {"field": "t", "type": "quantitative", "scale": {"domain": [0, 300], "nice": false, "zero": false},
              "axis": {"orient": "top", "title": null, "labels": false, "values": [30,60,90,120,150,180,210,240,270], "tickSize": {"condition": {"test": "datum.value % 60 === 0", "value": -15}, "value": -7}}},
            "y": {"field": "v", "type": "quantitative", "scale": {"domain": [0.25, 1.05], "nice": false, "zero": false},
              "axis": {"orient": "right", "title": null, "labels": false, "values": [0.28,0.343,0.407,0.468,0.531,0.594,0.656,0.72,0.783,0.844,0.908,0.971], "tickSize": {"condition": {"test": "indexof([0.28,0.407,0.531,0.656,0.783,0.908], datum.value) >= 0", "value": -15}, "value": -8}}},
            "shape": {"field": "s", "type": "nominal", "scale": {"domain": ["GA-DQN", "DQN", "QL", "PPO"], "range": ["M-4.7,0H4.7M-0.95,-0.95H0.95V0.95H-0.95Z", "M-4.7,0H4.7M0.95,0A0.95,0.95,0,1,1,-0.95,0A0.95,0.95,0,1,1,0.95,0Z", "M-4.7,0H4.7M0,-1.15L1.15,0.85H-1.15Z", "M-4.7,0H4.7M0,1.15L1.15,-0.85H-1.15Z"]}, "legend": {"title": null, "orient": "none", "legendX": 1012, "legendY": 626, "symbolStrokeWidth": 4}}
          }
        }
      ],
      "resolve": {"axis": {"x": "independent", "y": "independent"}}
    },
    {
      "width": 1382, "height": 868,
      "data": {"name": "c"},
      "title": {"text": "(c)Dynamic Jamming Environment", "orient": "bottom", "anchor": "middle", "frame": "group", "offset": 88},
      "encoding": {
        "x": {"field": "t", "type": "quantitative", "scale": {"domain": [0, 300], "nice": false, "zero": false}, "axis": null},
        "y": {"field": "v", "type": "quantitative", "scale": {"domain": [0.5, 1.05], "nice": false, "zero": false}, "axis": null},
        "color": {"field": "s", "type": "nominal", "scale": {"domain": ["GA-DQN", "DQN", "QL", "PPO"], "range": ["#000000", "#ec1c24", "#2e45a6", "#c155c0"]}, "legend": {"title": null, "orient": "none", "legendX": 1015, "legendY": 622, "symbolStrokeWidth": 4}}
      },
      "layer": [
        {
          "mark": {"type": "line", "interpolate": "monotone", "strokeWidth": 4},
          "encoding": {
            "x": {"field": "t", "type": "quantitative", "scale": {"domain": [0, 300], "nice": false, "zero": false},
              "axis": {"orient": "bottom", "title": "Time slots", "values": [0,25,50,75,100,125,150,175,200,225,250,275,300], "format": "d", "labelExpr": "datum.value % 50 === 0 ? datum.label : ''", "tickSize": {"condition": {"test": "datum.value % 50 === 0", "value": 17}, "value": 8}, "labelPadding": 5, "titlePadding": 4}},
            "y": {"field": "v", "type": "quantitative", "scale": {"domain": [0.5, 1.05], "nice": false, "zero": false},
              "axis": {"orient": "left", "title": "Normalized Throughput", "values": [0.5,0.55,0.6,0.65,0.7,0.75,0.8,0.85,0.9,0.95,1.0], "format": ".1f", "labelExpr": "abs(datum.value*10 - round(datum.value*10)) < 0.01 ? datum.label : ''", "tickSize": {"condition": {"test": "abs(datum.value*10 - round(datum.value*10)) < 0.01", "value": 18}, "value": 10}, "labelPadding": 7, "titlePadding": 16}}
          }
        },
        {"transform": [{"filter": "datum.s === 'GA-DQN'"}], "mark": {"type": "point", "shape": "square", "filled": false, "size": 360, "strokeWidth": 3, "opacity": 1}},
        {"transform": [{"filter": "datum.s === 'DQN'"}], "mark": {"type": "point", "shape": "circle", "filled": false, "size": 360, "strokeWidth": 3, "opacity": 1}},
        {"transform": [{"filter": "datum.s === 'QL'"}], "mark": {"type": "point", "shape": "triangle-up", "filled": false, "size": 360, "strokeWidth": 3, "opacity": 1}},
        {"transform": [{"filter": "datum.s === 'PPO'"}], "mark": {"type": "point", "shape": "triangle-down", "filled": false, "size": 360, "strokeWidth": 3, "opacity": 1}},
        {
          "transform": [{"filter": "false"}],
          "mark": {"type": "point", "filled": false, "size": 360, "strokeWidth": 4},
          "encoding": {
            "x": {"field": "t", "type": "quantitative", "scale": {"domain": [0, 300], "nice": false, "zero": false},
              "axis": {"orient": "top", "title": null, "labels": false, "values": [25,50,75,100,125,150,175,200,225,250,275], "tickSize": {"condition": {"test": "datum.value % 50 === 0", "value": -15}, "value": -7}}},
            "y": {"field": "v", "type": "quantitative", "scale": {"domain": [0.5, 1.05], "nice": false, "zero": false},
              "axis": {"orient": "right", "title": null, "labels": false, "values": [0.55,0.6,0.65,0.7,0.75,0.8,0.85,0.9,0.95,1.0], "tickSize": {"condition": {"test": "abs(datum.value*10 - round(datum.value*10)) < 0.01", "value": -15}, "value": -8}}},
            "shape": {"field": "s", "type": "nominal", "scale": {"domain": ["GA-DQN", "DQN", "QL", "PPO"], "range": ["M-4.7,0H4.7M-0.95,-0.95H0.95V0.95H-0.95Z", "M-4.7,0H4.7M0.95,0A0.95,0.95,0,1,1,-0.95,0A0.95,0.95,0,1,1,0.95,0Z", "M-4.7,0H4.7M0,-1.15L1.15,0.85H-1.15Z", "M-4.7,0H4.7M0,1.15L1.15,-0.85H-1.15Z"]}, "legend": {"title": null, "orient": "none", "legendX": 1015, "legendY": 622, "symbolStrokeWidth": 4}}
          }
        }
      ],
      "resolve": {"axis": {"x": "independent", "y": "independent"}}
    },
    {
      "width": 1382, "height": 868,
      "data": {"name": "d"},
      "title": {"text": "(d)Intelligent Blocking Jamming Environment", "orient": "bottom", "anchor": "middle", "frame": "group", "offset": 68},
      "encoding": {
        "x": {"field": "t", "type": "quantitative", "scale": {"domain": [0, 300], "nice": false, "zero": false}, "axis": null},
        "y": {"field": "v", "type": "quantitative", "scale": {"domain": [0.35, 1.05], "nice": false, "zero": false}, "axis": null},
        "color": {"field": "s", "type": "nominal", "scale": {"domain": ["GA-DQN", "DQN", "QL", "PPO"], "range": ["#000000", "#ec1c24", "#2e45a6", "#c155c0"]}, "legend": {"title": null, "orient": "none", "legendX": 1014, "legendY": 632, "symbolStrokeWidth": 4}}
      },
      "layer": [
        {
          "mark": {"type": "line", "interpolate": "monotone", "strokeWidth": 4},
          "encoding": {
            "x": {"field": "t", "type": "quantitative", "scale": {"domain": [0, 300], "nice": false, "zero": false},
              "axis": {"orient": "bottom", "title": "Time slots", "values": [0,25,50,75,100,125,150,175,200,225,250,275,300], "format": "d", "labelExpr": "datum.value % 50 === 0 ? datum.label : ''", "tickSize": {"condition": {"test": "datum.value % 50 === 0", "value": 17}, "value": 8}, "labelPadding": 5, "titlePadding": 4}},
            "y": {"field": "v", "type": "quantitative", "scale": {"domain": [0.35, 1.05], "nice": false, "zero": false},
              "axis": {"orient": "left", "title": "Normalized Throughput", "values": [0.4,0.45,0.5,0.55,0.6,0.65,0.7,0.75,0.8,0.85,0.9,0.95,1.0], "format": ".1f", "labelExpr": "abs(datum.value*10 - round(datum.value*10)) < 0.01 ? datum.label : ''", "tickSize": {"condition": {"test": "abs(datum.value*10 - round(datum.value*10)) < 0.01", "value": 18}, "value": 10}, "labelPadding": 7, "titlePadding": 14}}
          }
        },
        {"transform": [{"filter": "datum.s === 'GA-DQN'"}], "mark": {"type": "point", "shape": "square", "filled": false, "size": 360, "strokeWidth": 3, "opacity": 1}},
        {"transform": [{"filter": "datum.s === 'DQN'"}], "mark": {"type": "point", "shape": "circle", "filled": false, "size": 360, "strokeWidth": 3, "opacity": 1}},
        {"transform": [{"filter": "datum.s === 'QL'"}], "mark": {"type": "point", "shape": "triangle-up", "filled": false, "size": 360, "strokeWidth": 3, "opacity": 1}},
        {"transform": [{"filter": "datum.s === 'PPO'"}], "mark": {"type": "point", "shape": "triangle-down", "filled": false, "size": 360, "strokeWidth": 3, "opacity": 1}},
        {
          "transform": [{"filter": "false"}],
          "mark": {"type": "point", "filled": false, "size": 360, "strokeWidth": 4},
          "encoding": {
            "x": {"field": "t", "type": "quantitative", "scale": {"domain": [0, 300], "nice": false, "zero": false},
              "axis": {"orient": "top", "title": null, "labels": false, "values": [25,50,75,100,125,150,175,200,225,250,275], "tickSize": {"condition": {"test": "datum.value % 50 === 0", "value": -15}, "value": -7}}},
            "y": {"field": "v", "type": "quantitative", "scale": {"domain": [0.35, 1.05], "nice": false, "zero": false},
              "axis": {"orient": "right", "title": null, "labels": false, "values": [0.4,0.45,0.5,0.55,0.6,0.65,0.7,0.75,0.8,0.85,0.9,0.95,1.0], "tickSize": {"condition": {"test": "abs(datum.value*10 - round(datum.value*10)) < 0.01", "value": -15}, "value": -8}}},
            "shape": {"field": "s", "type": "nominal", "scale": {"domain": ["GA-DQN", "DQN", "QL", "PPO"], "range": ["M-4.7,0H4.7M-0.95,-0.95H0.95V0.95H-0.95Z", "M-4.7,0H4.7M0.95,0A0.95,0.95,0,1,1,-0.95,0A0.95,0.95,0,1,1,0.95,0Z", "M-4.7,0H4.7M0,-1.15L1.15,0.85H-1.15Z", "M-4.7,0H4.7M0,1.15L1.15,-0.85H-1.15Z"]}, "legend": {"title": null, "orient": "none", "legendX": 1014, "legendY": 632, "symbolStrokeWidth": 4}}
          }
        }
      ],
      "resolve": {"axis": {"x": "independent", "y": "independent"}}
    }
  ]
}
